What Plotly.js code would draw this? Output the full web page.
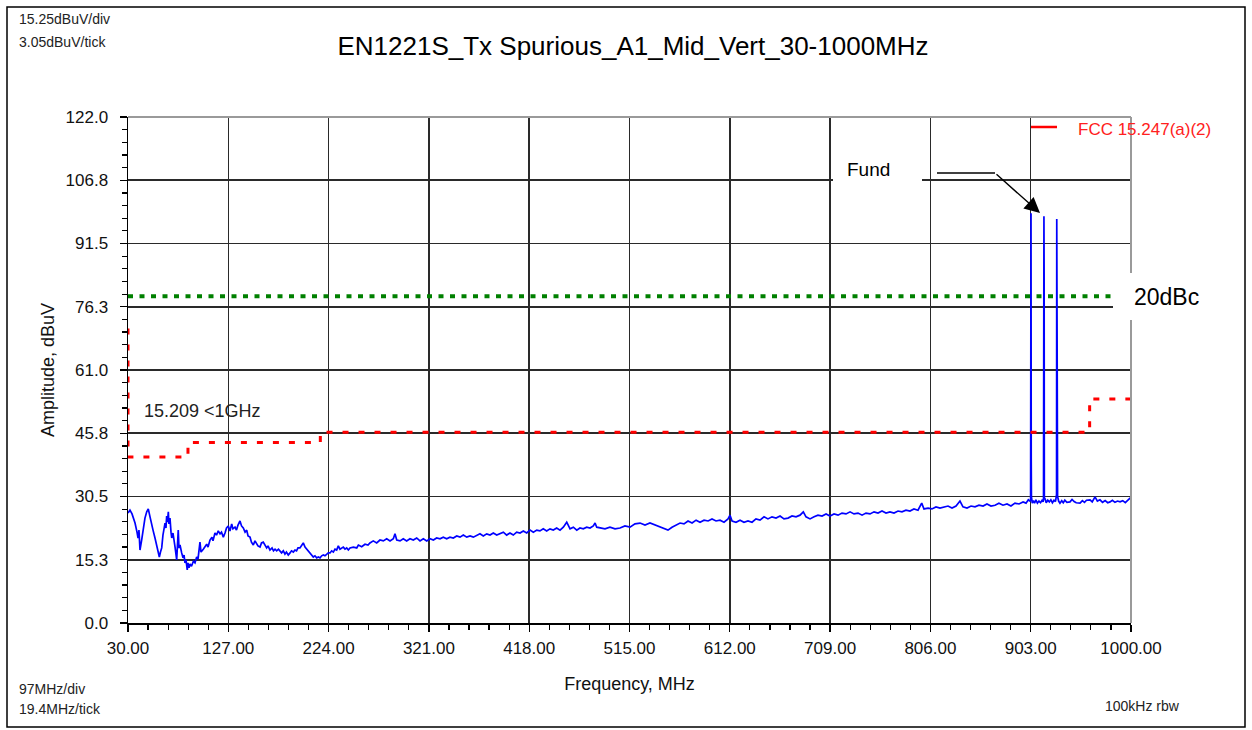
<!DOCTYPE html>
<html>
<head>
<meta charset="utf-8">
<script src="https://cdn.plot.ly/plotly-3.0.1.min.js"></script>
<style>
  html, body { margin: 0; padding: 0; background: #ffffff; }
  #chart { width: 1252px; height: 730px; }
</style>
</head>
<body>
<div id="chart"></div>
<script>
// ---------------- DATA ----------------
const xTickVals = [30, 127, 224, 321, 418, 515, 612, 709, 806, 903, 1000];
const xTickText = ["30.00", "127.00", "224.00", "321.00", "418.00", "515.00", "612.00", "709.00", "806.00", "903.00", "1000.00"];
const yTickVals = [0, 15.25, 30.5, 45.75, 61, 76.25, 91.5, 106.75, 122];
const yTickText = ["0.0", "15.3", "30.5", "45.8", "61.0", "76.3", "91.5", "106.8", "122.0"];

// Measured spectrum (MHz, dBuV)
const freqMHz = [
  30.0, 31.9, 33.9, 36.8, 38.7, 39.7, 40.6, 41.6, 43.2, 44.5,
  46.4, 48.1, 49.6, 51.3, 52.7, 54.2, 56.1, 57.8, 59.0, 60.3,
  61.4, 62.6, 63.8, 65.8, 66.7, 67.4, 68.1, 69.0, 69.6, 70.6,
  71.6, 72.3, 73.5, 74.5, 75.5, 77.1, 77.9, 78.6, 79.3, 80.3,
  81.9, 83.2, 84.2, 85.1, 86.1, 87.3, 88.0, 89.0, 90.0, 91.4,
  93.2, 94.8, 96.4, 97.7, 99.6, 100.6, 102.8, 104.5, 106.1, 107.4,
  109.3, 111.2, 112.2, 114.1, 115.6, 117.3, 119.0, 120.4, 122.2, 123.8,
  125.3, 127.0, 128.6, 130.3, 131.5, 133.5, 134.9, 136.4, 138.3, 139.8,
  141.5, 143.2, 144.8, 146.1, 148.0, 149.4, 151.2, 152.8, 154.5, 155.7,
  157.7, 159.1, 160.8, 162.5, 164.1, 165.4, 167.3, 169.3, 170.7, 172.2,
  173.8, 175.5, 177.0, 178.5, 180.2, 181.8, 183.2, 185.0, 186.7, 188.1,
  189.9, 191.5, 193.0, 194.4, 196.3, 197.8, 199.5, 201.2, 202.8, 204.1,
  206.0, 207.5, 209.2, 210.8, 212.5, 214.0, 215.7, 217.3, 218.9, 220.5,
  222.2, 223.7, 225.4, 227.0, 228.6, 230.2, 231.8, 233.4, 235.0, 236.7,
  238.2, 239.9, 241.5, 243.1, 244.7, 247.9, 251.2, 252.8, 256.0, 259.2,
  262.1, 264.0, 267.2, 270.5, 273.7, 276.9, 280.2, 283.4, 286.6, 288.2,
  289.9, 293.1, 296.2, 299.5, 302.7, 305.9, 309.2, 312.4, 315.6, 318.9,
  322.1, 325.3, 328.5, 331.7, 334.9, 338.2, 341.4, 344.6, 347.9, 351.1,
  354.3, 357.6, 360.8, 364.0, 367.2, 370.4, 373.6, 376.9, 380.1, 383.3,
  386.6, 389.8, 393.0, 396.2, 399.4, 402.6, 405.9, 409.1, 412.3, 415.6,
  418.8, 422.0, 425.3, 428.4, 431.6, 434.9, 438.1, 441.3, 444.6, 447.8,
  451.0, 454.3, 457.5, 460.7, 464.0, 467.1, 470.3, 473.6, 476.8, 480.0,
  481.7, 483.3, 486.5, 491.3, 496.1, 501.0, 505.8, 510.6, 515.5, 520.3,
  525.2, 530.0, 534.8, 539.7, 544.5, 548.4, 552.2, 556.1, 560.0, 563.9,
  567.7, 571.6, 575.5, 579.4, 583.2, 587.1, 591.0, 594.8, 598.7, 602.5,
  606.4, 610.3, 612.2, 614.2, 618.0, 621.9, 625.7, 629.6, 633.5, 637.3,
  641.2, 645.1, 648.9, 652.8, 656.7, 660.6, 664.4, 668.3, 672.2, 676.0,
  679.9, 683.1, 685.7, 689.6, 693.5, 697.3, 701.2, 705.1, 708.9, 712.8,
  716.7, 720.5, 724.4, 728.3, 732.1, 736.0, 739.9, 743.7, 747.6, 751.5,
  755.3, 759.2, 763.1, 766.9, 770.8, 774.7, 778.5, 782.4, 786.2, 790.1,
  794.0, 797.6, 799.8, 803.7, 807.5, 811.4, 815.3, 819.2, 823.0, 826.9,
  830.8, 834.6, 837.5, 841.4, 845.3, 849.1, 853.0, 856.9, 860.7, 864.6,
  868.5, 872.3, 876.2, 880.1, 883.9, 887.8, 891.7, 895.6, 898.5, 900.7,
  902.3, 902.9, 903.1, 903.3, 903.5, 903.7, 904.5, 905.5, 906.7, 908.0,
  909.5, 911.0, 912.5, 914.0, 915.0, 915.4, 915.6, 915.8, 916.0, 916.2,
  917.0, 918.0, 919.5, 921.0, 922.5, 924.0, 925.5, 927.0, 927.8, 928.0,
  928.2, 928.4, 928.6, 929.0, 930.0, 931.3, 933.0, 934.5, 936.0, 938.0,
  941.0, 943.0, 945.0, 947.0, 950.7, 953.0, 955.0, 957.0, 960.4, 962.5,
  965.2, 967.5, 970.0, 972.5, 975.0, 977.5, 979.7, 982.0, 984.5, 987.0,
  989.4, 992.0, 994.5, 997.0, 999.0, 1000.0
];
const ampDbuv = [
  26.5, 27.2, 26.3, 24.1, 21.9, 20.5, 22.4, 17.6, 20.0, 22.4,
  25.3, 26.8, 27.5, 25.6, 23.6, 22.4, 20.5, 18.8, 17.1, 15.9,
  17.1, 18.1, 21.2, 24.1, 22.9, 25.8, 24.3, 26.8, 23.9, 25.3,
  21.9, 20.5, 21.7, 19.3, 18.3, 15.2, 18.8, 22.4, 18.1, 18.8,
  16.9, 15.7, 16.4, 14.5, 15.2, 12.8, 14.5, 13.3, 14.2, 13.7,
  14.9, 14.5, 15.9, 15.4, 19.5, 17.1, 17.8, 18.6, 19.0, 18.3,
  20.0, 20.7, 19.8, 21.7, 21.2, 22.2, 21.5, 21.9, 20.7, 21.7,
  22.9, 23.4, 22.2, 23.9, 22.7, 23.1, 22.4, 23.6, 24.6, 23.4,
  22.9, 21.9, 22.4, 21.0, 20.7, 19.5, 18.8, 19.8, 19.0, 18.6,
  18.3, 19.3, 19.5, 18.6, 18.1, 18.6, 17.6, 18.1, 17.4, 17.8,
  17.4, 17.8, 17.4, 16.9, 17.4, 16.6, 17.1, 16.4, 16.9, 17.4,
  17.1, 17.6, 17.4, 18.1, 18.1, 18.8, 19.3, 18.3, 17.8, 17.4,
  16.9, 16.4, 15.9, 16.2, 15.7, 15.9, 15.7, 16.2, 16.4, 16.2,
  16.6, 16.9, 16.9, 17.4, 17.1, 17.8, 17.6, 18.6, 17.8, 18.1,
  18.3, 17.8, 18.1, 17.6, 18.1, 18.3, 18.1, 18.8, 18.4, 19.0,
  18.8, 19.3, 19.8, 19.3, 20.0, 19.8, 20.3, 19.8, 20.3, 21.5,
  20.0, 19.8, 20.3, 19.8, 20.3, 20.0, 20.5, 19.8, 20.3, 19.8,
  20.3, 20.0, 20.5, 20.3, 20.7, 20.3, 20.7, 20.5, 21.0, 20.7,
  21.2, 20.7, 21.0, 20.7, 21.2, 21.5, 21.0, 21.5, 21.2, 21.7,
  21.2, 21.5, 21.9, 21.2, 21.7, 21.2, 21.9, 21.7, 22.2, 21.7,
  22.4, 21.9, 22.4, 22.2, 22.7, 22.2, 22.7, 22.4, 22.9, 22.4,
  23.1, 24.3, 22.7, 23.1, 22.4, 22.9, 22.7, 23.1, 22.9, 23.4,
  24.1, 23.1, 22.9, 22.7, 23.1, 22.7, 22.9, 23.4, 23.1, 23.9,
  24.1, 23.6, 24.1, 23.6, 23.1, 22.7, 22.4, 23.1, 23.6, 24.1,
  23.9, 24.6, 24.1, 24.8, 24.3, 24.8, 24.6, 25.1, 24.6, 24.8,
  24.3, 25.1, 26.0, 24.6, 24.3, 24.8, 24.3, 24.6, 24.3, 25.1,
  24.8, 25.6, 25.1, 25.6, 25.3, 25.8, 25.1, 25.3, 25.8, 25.6,
  26.0, 26.8, 25.6, 25.1, 25.6, 26.0, 25.8, 26.3, 25.8, 26.3,
  26.0, 26.5, 26.3, 26.8, 26.3, 26.5, 26.0, 26.5, 26.3, 26.8,
  26.5, 27.0, 26.5, 26.8, 26.5, 27.0, 26.8, 27.2, 27.0, 27.5,
  27.2, 28.9, 27.5, 27.7, 27.5, 28.0, 27.7, 28.0, 28.2, 27.7,
  28.2, 29.4, 28.0, 27.7, 28.2, 28.0, 28.4, 28.2, 28.7, 28.2,
  28.4, 28.9, 28.4, 28.7, 28.2, 28.9, 28.7, 29.2, 28.9, 29.7,
  29.4, 29.6, 71.8, 98.8, 39.8, 30.5, 28.9, 29.5, 28.9, 29.7,
  28.9, 29.4, 29.0, 29.6, 29.2, 29.8, 66.3, 98.1, 83.2, 30.2,
  29.9, 29.0, 29.6, 29.2, 29.7, 29.0, 29.6, 29.3, 30.5, 31.0,
  97.4, 70.6, 31.5, 30.5, 29.4, 28.9, 29.5, 29.0, 29.6, 29.1,
  29.2, 29.8, 29.3, 29.0, 28.9, 29.5, 29.1, 29.6, 29.7, 29.2,
  30.4, 29.4, 29.7, 29.1, 29.5, 29.0, 29.2, 29.6, 29.1, 29.4,
  29.2, 29.5, 29.0, 29.6, 30.1, 29.8
];

// FCC 15.209 (<1 GHz) limit line
const limitFreq  = [30, 30, 88, 88, 216, 216, 960, 960, 1000];
const limitLevel = [71, 40, 40, 43.5, 43.5, 46, 46, 54, 54];

// 20 dBc reference line
const dbcFreq  = [30, 1000];
const dbcLevel = [78.8, 78.8];

// ---------------- LAYOUT HELPERS ----------------
const L = 128, R = 1131, T = 117, B = 623;   // plot area in page pixels
function px(p) { return (p - L) / (R - L); }
function py(p) { return (B - p) / (B - T); }

const xMinor = [];
for (let k = 0; k <= 50; k++) { if (k % 5 !== 0) xMinor.push(30 + k * 19.4); }
const yMinor = [];
for (let k = 0; k <= 40; k++) { if (k % 5 !== 0) yMinor.push(k * 3.05); }

const FONT = "Liberation Sans, Arial, Helvetica, sans-serif";

const traces = [
  {
    x: freqMHz, y: ampDbuv, type: 'scatter', mode: 'lines',
    line: { color: '#0000ff', width: 1.7 }, showlegend: false, hoverinfo: 'x+y'
  },
  {
    x: limitFreq, y: limitLevel, type: 'scatter', mode: 'lines',
    line: { color: '#ff0000', width: 3, dash: '6px,10px' }, showlegend: false, opacity: 1
  },
  {
    x: dbcFreq, y: dbcLevel, type: 'scatter', mode: 'lines',
    line: { color: '#008000', width: 4, dash: '5px,6.5px' }, showlegend: false
  }
];

const axisCommon = {
  tickmode: 'array', showgrid: true, gridcolor: '#2a2a2a', gridwidth: 1.6,
  zeroline: false, showline: true, linecolor: '#000000', linewidth: 1.5,
  ticks: 'outside', ticklen: 7, tickwidth: 1.3, tickcolor: '#000000',
  tickfont: { family: FONT, size: 17, color: '#111111' }, fixedrange: true
};

const layout = {
  width: 1252, height: 730,
  margin: { l: L, r: 1252 - R, t: T, b: 730 - B, pad: 0 },
  paper_bgcolor: '#ffffff', plot_bgcolor: '#ffffff',
  font: { family: FONT, color: '#000000' },
  showlegend: false,
  title: {
    text: 'EN1221S_Tx Spurious_A1_Mid_Vert_30-1000MHz',
    font: { family: FONT, size: 26, color: '#000000' },
    x: (633 - L) / (R - L), xref: 'paper', xanchor: 'center',
    y: 1 - 46 / 730, yref: 'container', yanchor: 'middle'
  },
  xaxis: Object.assign({}, axisCommon, {
    range: [30, 1000], tickvals: xTickVals, ticktext: xTickText,
    ticklabelstandoff: 2,
    minor: { tickmode: 'array', tickvals: xMinor, ticks: 'outside', ticklen: 5, tickwidth: 1.2, tickcolor: '#000000', showgrid: false },
    title: { text: 'Frequency, MHz', font: { family: FONT, size: 18, color: '#111111' }, standoff: 20 }
  }),
  yaxis: Object.assign({}, axisCommon, {
    range: [0, 122], tickvals: yTickVals, ticktext: yTickText,
    ticklabelstandoff: 8,
    minor: { tickmode: 'array', tickvals: yMinor, ticks: 'outside', ticklen: 5, tickwidth: 1.2, tickcolor: '#000000', showgrid: false },
    title: { text: 'Amplitude, dBuV', font: { family: FONT, size: 18, color: '#111111' }, standoff: 6 }
  }),
  shapes: [
    // outer frame of the picture
    { type: 'rect', xref: 'paper', yref: 'paper', x0: px(7), x1: px(1245), y0: py(727), y1: py(7),
      line: { color: '#000000', width: 1.5 }, fillcolor: 'rgba(0,0,0,0)', layer: 'above' },
    // grey top and right edges of the plot box
    { type: 'line', xref: 'paper', yref: 'paper', x0: 0, x1: 1, y0: 1, y1: 1,
      line: { color: '#9a9a9a', width: 2 }, layer: 'above' },
    { type: 'line', xref: 'paper', yref: 'paper', x0: 1, x1: 1, y0: 0, y1: 1,
      line: { color: '#9a9a9a', width: 2 }, layer: 'above' },
    // white label boxes
    { type: 'rect', xref: 'paper', yref: 'paper', x0: px(833), x1: px(922), y0: py(188), y1: py(152),
      line: { width: 0 }, fillcolor: '#ffffff', layer: 'above' },
    { type: 'rect', xref: 'paper', yref: 'paper', x0: px(1113), x1: px(1212), y0: py(320), y1: py(273),
      line: { width: 0 }, fillcolor: '#ffffff', layer: 'above' },
    // legend key for the red limit
    { type: 'line', xref: 'paper', yref: 'paper', x0: px(1031), x1: px(1057), y0: py(127), y1: py(127),
      line: { color: '#ff0000', width: 2.5 }, layer: 'above' },
    // horizontal part of the "Fund" leader
    { type: 'line', xref: 'paper', yref: 'paper', x0: px(937), x1: px(995), y0: py(173), y1: py(173),
      line: { color: '#000000', width: 1.4 }, layer: 'above' }
  ],
  annotations: [
    { text: '15.25dBuV/div', xref: 'paper', yref: 'paper', x: px(17), y: py(19), xanchor: 'left', yanchor: 'middle',
      showarrow: false, font: { family: FONT, size: 14, color: '#222222' } },
    { text: '3.05dBuV/tick', xref: 'paper', yref: 'paper', x: px(17), y: py(42), xanchor: 'left', yanchor: 'middle',
      showarrow: false, font: { family: FONT, size: 14, color: '#222222' } },
    { text: '97MHz/div', xref: 'paper', yref: 'paper', x: px(17), y: py(689), xanchor: 'left', yanchor: 'middle',
      showarrow: false, font: { family: FONT, size: 14, color: '#222222' } },
    { text: '19.4MHz/tick', xref: 'paper', yref: 'paper', x: px(17), y: py(709), xanchor: 'left', yanchor: 'middle',
      showarrow: false, font: { family: FONT, size: 14, color: '#222222' } },
    { text: '100kHz rbw', xref: 'paper', yref: 'paper', x: px(1103), y: py(706), xanchor: 'left', yanchor: 'middle',
      showarrow: false, font: { family: FONT, size: 14, color: '#222222' } },
    { text: '15.209 <1GHz', xref: 'paper', yref: 'paper', x: px(142), y: py(411), xanchor: 'left', yanchor: 'middle',
      showarrow: false, font: { family: FONT, size: 18, color: '#222222' } },
    { text: 'FCC 15.247(a)(2)', xref: 'paper', yref: 'paper', x: px(1076), y: py(130), xanchor: 'left', yanchor: 'middle',
      showarrow: false, font: { family: FONT, size: 17, color: '#ff2020' } },
    { text: 'Fund', xref: 'paper', yref: 'paper', x: px(845), y: py(170), xanchor: 'left', yanchor: 'middle',
      showarrow: false, font: { family: FONT, size: 19, color: '#000000' } },
    { text: '20dBc', xref: 'paper', yref: 'paper', x: px(1132), y: py(297), xanchor: 'left', yanchor: 'middle',
      showarrow: false, font: { family: FONT, size: 23, color: '#000000' } },
    // arrow pointing at the fundamental
    { text: '', xref: 'paper', yref: 'paper', x: px(1040), y: py(213), ax: 995 - 1040, ay: 173 - 213,
      showarrow: true, arrowhead: 2, arrowsize: 2.2, arrowwidth: 1.4, arrowcolor: '#000000', standoff: 0 }
  ]
};

Plotly.newPlot('chart', traces, layout, { displayModeBar: false, staticPlot: true });
</script>
</body>
</html>
